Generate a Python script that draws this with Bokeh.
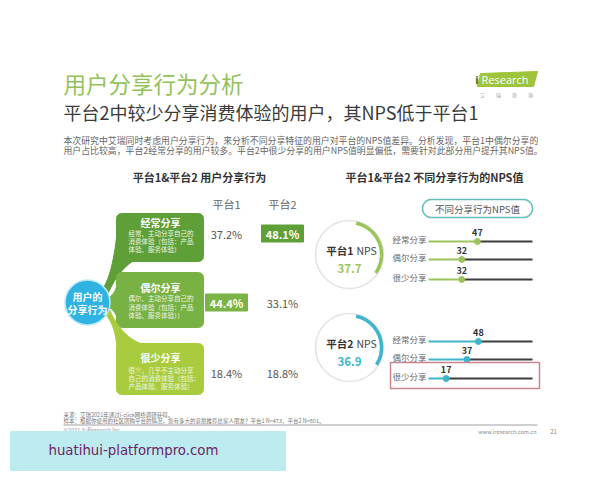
import numpy as np
from bokeh.plotting import figure
from bokeh.models import Range1d
from bokeh.core.properties import value
from bokeh.embed import file_html
from bokeh.resources import INLINE

# ---------------- data ----------------
title = "用户分享行为分析"
subtitle = "平台2中较少分享消费体验的用户，其NPS低于平台1"
intro = [
    "本次研究中艾瑞同时考虑用户分享行为，来分析不同分享特征的用户对平台的NPS值差异。分析发现，平台1中偶尔分享的",
    "用户占比较高，平台2经常分享的用户较多。平台2中很少分享的用户NPS值明显偏低，需要针对此部分用户提升其NPS值。",
]
left_title = "平台1&平台2 用户分享行为"
right_title = "平台1&平台2 不同分享行为的NPS值"
center_label = ["用户的", "分享行为"]
categories = ["经常分享", "偶尔分享", "很少分享"]
descriptions = [
    ["经常、主动分享自己的", "消费体验（包括：产品", "体验、服务体验）"],
    ["偶尔、主动分享自己的", "消费体验（包括：产品", "体验、服务体验））"],
    ["很少，几乎不主动分享", "自己的消费体验（包括：", "产品体验、服务体验）"],
]
platforms = ["平台1", "平台2"]
share_p1 = [37.2, 44.4, 18.4]
share_p2 = [48.1, 33.1, 18.8]
platform_nps = [37.7, 36.9]
nps_p1 = [47, 32, 32]
nps_p2 = [48, 37, 17]
legend_label = "不同分享行为NPS值"
footer_source = "来源：艾瑞2021年通过i-click网络调研获得。"
footer_sample = "样本：根据你使用的社区团购平台的情况，您有多大的意愿推荐给家人朋友？平台1 N=473，平台2 N=801。"
footer_copy = "©2021.9 iResearch Inc."
footer_site = "www.iresearch.com.cn"
page_no = "21"
watermark = "huatihui-platformpro.com"

# ---------------- styles ----------------
CJK = "Noto Sans CJK SC"
GREEN = "#9cc45c"
TEAL = "#3fb5cb"
BOX_COLORS = ["#5f9f37", "#79b244", "#a9cc3f"]
HILITE = ["#7bb446", "#5f9f37"]

W, H = 600, 480
p = figure(width=W, height=H, x_range=Range1d(0, W), y_range=Range1d(H, 0),
           x_axis_type=None, y_axis_type=None, output_backend="svg",
           toolbar_location=None, min_border=0)
p.outline_line_color = None
p.background_fill_color = "white"
p.border_fill_color = "white"

# NPS scale 0..100 placed between x=428 and x=532 of the page
NX0, NX1 = 428, 532
span = 100 * W / (NX1 - NX0)
start = -NX0 / W * span
p.extra_x_ranges = {"nps": Range1d(start, start + span)}


def T(x, y, s, size, color, bold=False, align="left", font=CJK, rng="default"):
    ss = s if isinstance(s, list) else [s]
    n = len(ss)
    xs = x if isinstance(x, list) else [x] * n
    ys = y if isinstance(y, list) else [y] * n
    p.text(x=xs, y=ys, text=ss, text_font=value(font), text_font_size=value(f"{size}px"),
           text_color=color, text_font_style="bold" if bold else "normal",
           text_align=align, text_baseline="middle", x_range_name=rng)


def rrect(x0, y0, x1, y1, r, n=8):
    xs, ys = [], []
    for cx, cy, a0 in [(x1 - r, y0 + r, -90), (x1 - r, y1 - r, 0), (x0 + r, y1 - r, 90), (x0 + r, y0 + r, 180)]:
        for a in np.linspace(a0, a0 + 90, n):
            xs.append(cx + r * np.cos(np.radians(a)))
            ys.append(cy + r * np.sin(np.radians(a)))
    return xs, ys


def bez(a, c, b, n=16):
    t = np.linspace(0, 1, n)
    x = (1 - t) ** 2 * a[0] + 2 * (1 - t) * t * c[0] + t ** 2 * b[0]
    y = (1 - t) ** 2 * a[1] + 2 * (1 - t) * t * c[1] + t ** 2 * b[1]
    return list(x), list(y)


# ---------------- header ----------------
T(63, 82, title, 22.5, "#93c25a")
T(63, 111, subtitle, 18, "#3a3a3a")
T(63, 139.5, intro[0], 8.9, "#666666")
T(63, 149.5, intro[1], 8.9, "#666666")

# logo
p.patch([480, 537, 533, 477], [73, 71, 86, 86], color="#9dc43a")
T(476.5, 79, "i", 11, "#3d5a1c", bold=True, font="Open Sans", align="center")
T(481, 79, "Research", 11, "white", font="Open Sans")
for k, ch in enumerate("艾瑞咨询"):
    T(482 + k * 16, 93.5, ch, 5, "#999999", align="center")

# ---------------- left panel ----------------
T(199, 176, left_title, 11, "#333333", bold=True, align="center")
col_x = [226, 282]
T(col_x, [203, 203], platforms, 11, "#666666", align="center")

box_tops = [213, 272, 343]
box_bots = [261, 327, 394]
# stems connecting the center bubble to the boxes
stems = [
    (bez((118, 216), (114, 270), (103, 287)), bez((108, 292), (118, 270), (132, 261))),
    (bez((118, 276), (116, 296), (105, 298)), bez((105, 306), (116, 308), (118, 324))),
    (bez((104, 313), (117, 325), (117, 360)), bez((140, 343), (120, 335), (109, 309))),
]
for i in range(3):
    (ax, ay), (bx, by) = stems[i]
    p.patch(ax + bx, ay + by, color=BOX_COLORS[i])
    xs, ys = rrect(116, box_tops[i], 203, box_bots[i], 5)
    p.patch(xs, ys, color=BOX_COLORS[i])

head_y = [222, 287, 357]
desc_y = [[232, 240, 248.5], [297.5, 306, 314], [369.5, 377.5, 385.5]]
for i in range(3):
    T(160, head_y[i], categories[i], 10, "white", bold=True, align="center")
    T(128, desc_y[i], descriptions[i], 6.5, "#eef6e4")

p.scatter([87], [302], size=45, fill_color="#2fb3e2", line_color="#bfe8f6", line_width=1.5)
T(87, 296, center_label[0], 10, "white", bold=True, align="center")
T(87, 308.5, center_label[1], 10, "white", bold=True, align="center")

row_y = [233, 302, 372]
for j, vals in enumerate([share_p1, share_p2]):
    m = int(np.argmax(vals))
    p.rect([col_x[j]], [row_y[m]], width=42, height=17, color=HILITE[j])
    for i, v in enumerate(vals):
        T(col_x[j], row_y[i], f"{v:.1f}%", 11, "white" if i == m else "#555555",
          bold=(i == m), align="center")

# ---------------- right panel ----------------
T(434, 176, right_title, 11, "#333333", bold=True, align="center")
xs, ys = rrect(422, 199, 532, 217, 9, n=12)
p.patch(xs, ys, fill_color="white", line_color="#66c0b8", line_width=1.6)
T(477, 208, legend_label, 9.5, "#555555", align="center")

centers = [(349, 254), (349, 347)]
rows = [[241, 259, 279], [341, 359, 378]]
pcol = [GREEN, TEAL]
for k, (vals, v) in enumerate(zip([nps_p1, nps_p2], platform_nps)):
    cx, cy = centers[k]
    p.scatter([cx], [cy], size=68, fill_color="white", line_color="#e3e3e3", line_width=1.5)
    th = np.radians(np.linspace(12, 12 + v * 3, 60))
    p.line(cx + 32 * np.sin(th), cy - 32 * np.cos(th), line_color=pcol[k], line_width=3.5)
    T(353, cy - 4, platforms[k], 10.5, "#333333", bold=True, align="right")
    T(356, cy - 4, "NPS", 10.5, "#444444")
    T(cx, cy + 13.5, f"{v:.1f}", 11.5, pcol[k], bold=True, align="center")

    ry = rows[k]
    p.segment(x0=[0] * 3, y0=ry, x1=vals, y1=ry, line_color=pcol[k], line_width=2, x_range_name="nps")
    p.segment(x0=vals, y0=ry, x1=[100] * 3, y1=ry, line_color="#3d3d3d", line_width=2, x_range_name="nps")
    p.scatter(vals, ry, size=6, color=pcol[k], x_range_name="nps")
    T(list(vals), [r - 9 for r in ry], [str(v2) for v2 in vals], 9, "#333333", bold=True,
      align="center", rng="nps")
    T([426] * 3, [r - 3 for r in ry], categories, 8.5, "#666666", align="right")

# highlight the weakest row of platform 2
kmin = int(np.argmin(nps_p2))
p.rect([464.5], [rows[1][kmin] - 3], width=149, height=26, fill_color=None,
       line_color="#c9858d", line_width=1.5)

# ---------------- footer ----------------
T(63, 414.5, footer_source, 5.5, "#777777")
T(63, 420.5, footer_sample, 5.5, "#777777")
p.segment([63], [424.5], [537], [424.5], line_color="#a0a0a0", line_width=1)
T(63, 429.5, footer_copy, 5.5, "#999999")
T(536, 431, footer_site, 5.5, "#888888", align="right")
T(553, 431, page_no, 6, "#888888", align="center")

# watermark band
p.quad(left=[10], right=[285], top=[431], bottom=[470], color="#bdecf0")
T(48, 450, watermark, 13.3, "#6e2363", font="DejaVu Sans")

open("out.html", "w").write(file_html(p, INLINE))
